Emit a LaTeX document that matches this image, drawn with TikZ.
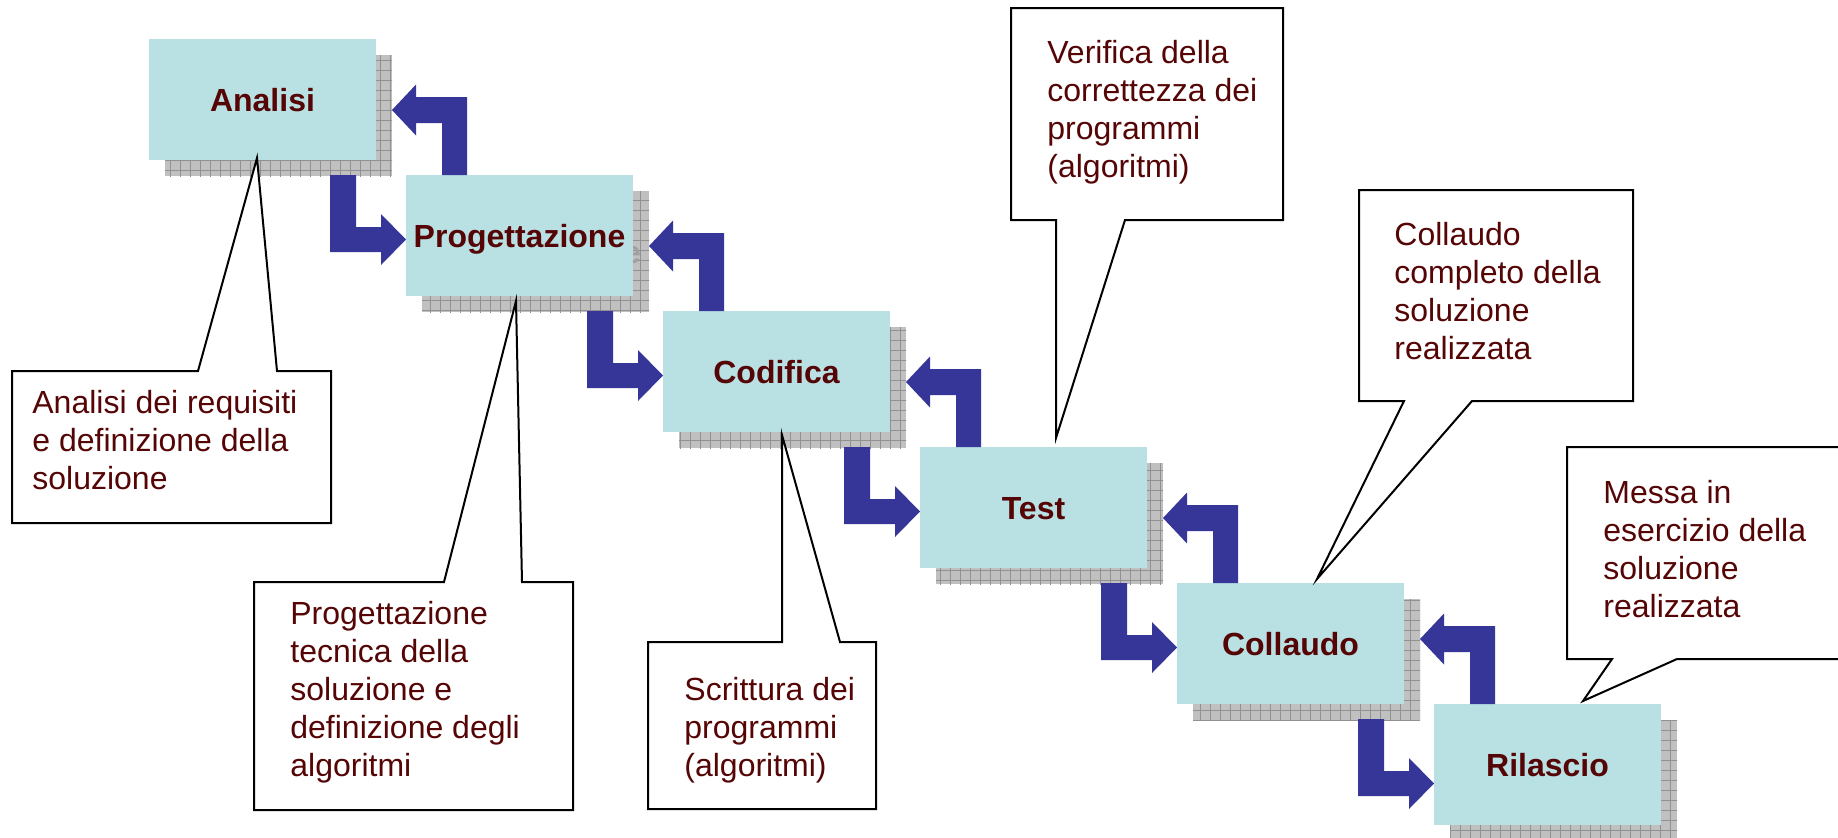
\documentclass[tikz,border=0pt]{standalone}
\usepackage{fontspec}
\setmainfont{Liberation Sans}
\usetikzlibrary{calc}

\definecolor{boxfill}{RGB}{185,224,227}
\definecolor{flowblue}{RGB}{54,54,153}
\definecolor{inkred}{RGB}{85,5,5}
\definecolor{shadowfill}{RGB}{192,192,192}
\definecolor{shadowgrid}{RGB}{145,145,145}
\definecolor{ghostgray}{RGB}{160,160,160}

\pgfdeclarelayer{back}
\pgfsetlayers{back,main}

\tikzset{
  phase/.style={fill=boxfill, inner sep=0pt, outer sep=0pt, anchor=north west,
    minimum width=113.5pt, minimum height=60.5pt,
    font=\fontsize{16}{19}\selectfont\bfseries, text=inkred,
    text height=11.5pt, text depth=0pt},
  ghostlabel/.style={inner sep=0pt, anchor=base east,
    font=\fontsize{16}{19}\selectfont\bfseries, text=ghostgray},
  flow/.style={fill=flowblue},
  callbox/.style={inner sep=0pt, outer sep=0pt, anchor=north west},
  callout/.style={draw=black, line width=1pt, fill=white, line join=miter},
  note/.style={anchor=base west, inner sep=0pt,
    font=\fontsize{16}{19}\selectfont, text=inkred},
}

% left-aligned lines whose baseline is the first line
\newcommand\notelines[1]{\begin{tabular}[t]{@{}l@{}}#1\end{tabular}}

% hatched drop shadow behind a phase box
\newcommand\phaseshadow[1]{%
  \fill[shadowfill] ($(#1.north west)+(16,16)$) rectangle ($(#1.south east)+(16,16)$);
  \begin{scope}
    \clip ($(#1.north west)+(16,16)$) rectangle ($(#1.south east)+(16,16)$);
    \draw[shadowgrid, line width=0.5pt, step=5pt]
      ($(#1.north west)+(10,10)$) grid ($(#1.south east)+(22,22)$);
  \end{scope}}

% forward block arrow: down from box #1, then right into box #2
\newcommand\fwdflow[2]{%
  \fill[flow] ($(#1.south west)+(181,15)$) -- ($(#1.south west)+(207,15)$)
    -- ($(#1.north west)+(207,188)$)
    -- ($(#2.north west |- #1.north west)+(-25,188)$)
    -- ($(#2.north west |- #1.north west)+(-25,175)$)
    -- ($(#2.north west |- #1.north west)+(0,200.5)$)
    -- ($(#2.north west |- #1.north west)+(-25,226)$)
    -- ($(#2.north west |- #1.north west)+(-25,213)$)
    -- ($(#1.north west)+(181,213)$) -- cycle;}

% return block arrow: up from box #1, then left back to box #2
\newcommand\backflow[2]{%
  \fill[flow] ($(#1.north west)+(36,0)$) -- ($(#1.north west)+(36,-52)$)
    -- ($(#2.north east |- #1.north west)+(40,-52)$)
    -- ($(#2.north east |- #1.north west)+(40,-39.5)$)
    -- ($(#2.north east |- #1.north west)+(16,-65)$)
    -- ($(#2.north east |- #1.north west)+(40,-90.5)$)
    -- ($(#2.north east |- #1.north west)+(40,-78)$)
    -- ($(#1.north west)+(61,-78)$) -- ($(#1.north west)+(61,0)$) -- cycle;}

\begin{document}
\begin{tikzpicture}[x=0.5pt, y=-0.5pt]
  \clip (0,0) rectangle (1838,837);

  % phases
  \node[phase] (analisi)       at (149,39)   {Analisi};
  \node[phase] (progettazione) at (406,175)  {Progettazione};
  \node[phase] (codifica)      at (663,311)  {Codifica};
  \node[phase] (test)          at (920,447)  {Test};
  \node[phase] (collaudo)      at (1177,583) {Collaudo};
  \node[phase] (rilascio)      at (1434,704) {Rilascio};

  \begin{pgfonlayer}{back}
    \foreach \b in {analisi,progettazione,codifica,test,collaudo,rilascio}
      {\phaseshadow{\b}}
    % the shadowed last letter of the long label peeks out beside its box
    \node[ghostlabel] (ghost) at ($(progettazione.center)+(121.8,27.5)$) {e};
  \end{pgfonlayer}

  % flow between phases
  \fwdflow{analisi}{progettazione}
  \fwdflow{progettazione}{codifica}
  \fwdflow{codifica}{test}
  \fwdflow{test}{collaudo}
  \fwdflow{collaudo}{rilascio}
  \backflow{progettazione}{analisi}
  \backflow{codifica}{progettazione}
  \backflow{test}{codifica}
  \backflow{collaudo}{test}
  \backflow{rilascio}{collaudo}

  % callouts below the phases
  \node[callbox, minimum width=159.5pt, minimum height=76pt] (c1) at (12,371) {};
  \coordinate (t1) at ($(analisi.south)+(-5.5,-2)$);
  \draw[callout] (c1.north west) -- ($(c1.north west)+(186,0)$) -- (t1)
    -- ($(c1.north west)+(265,0)$) -- (c1.north east) -- (c1.south east)
    -- (c1.south west) -- cycle;
  \node[note] (n1) at ($(c1.north west)+(20,42)$)
    {\notelines{Analisi dei requisiti\\e definizione della\\soluzione}};

  \node[callbox, minimum width=159.5pt, minimum height=114pt] (c2) at (254,582) {};
  \coordinate (t2) at ($(progettazione.south)+(-3.5,5)$);
  \draw[callout] (c2.north west) -- ($(c2.north west)+(190,0)$) -- (t2)
    -- ($(c2.north west)+(268,0)$) -- (c2.north east) -- (c2.south east)
    -- (c2.south west) -- cycle;
  \node[note] (n2) at ($(c2.north west)+(36,42)$)
    {\notelines{Progettazione\\tecnica della\\soluzione e\\definizione degli\\algoritmi}};

  \node[callbox, minimum width=114pt, minimum height=83.5pt] (c3) at (648,642) {};
  \coordinate (t3) at ($(codifica.south)+(5.5,3)$);
  \draw[callout] (c3.north west) -- ($(c3.north west)+(134,0)$) -- (t3)
    -- ($(c3.north west)+(192,0)$) -- (c3.north east) -- (c3.south east)
    -- (c3.south west) -- cycle;
  \node[note] (n3) at ($(c3.north west)+(36,58)$)
    {\notelines{Scrittura dei\\programmi\\(algoritmi)}};

  % callouts above the phases
  \node[callbox, minimum width=136pt, minimum height=106pt] (c4) at (1011,8) {};
  \coordinate (t4) at ($(test.north)+(22.5,-9)$);
  \draw[callout] (c4.north west) -- (c4.north east) -- (c4.south east)
    -- ($(c4.south west)+(114,0)$) -- (t4) -- ($(c4.south west)+(45,0)$)
    -- (c4.south west) -- cycle;
  \node[note] (n4) at ($(c4.north west)+(36,55)$)
    {\notelines{Verifica della\\correttezza dei\\programmi\\(algoritmi)}};

  \node[callbox, minimum width=137pt, minimum height=105.5pt] (c5) at (1359,190) {};
  \coordinate (t5) at ($(collaudo.north)+(26.5,-4)$);
  \draw[callout] (c5.north west) -- (c5.north east) -- (c5.south east)
    -- ($(c5.south west)+(113,0)$) -- (t5) -- ($(c5.south west)+(45,0)$)
    -- (c5.south west) -- cycle;
  \node[note] (n5) at ($(c5.north west)+(35,55)$)
    {\notelines{Collaudo\\completo della\\soluzione\\realizzata}};

  \node[callbox, minimum width=141.5pt, minimum height=106pt] (c6) at (1567,447) {};
  \coordinate (t6) at ($(rilascio.north)+(35.5,-3)$);
  \draw[callout] (c6.north west) -- (c6.north east) -- (c6.south east)
    -- ($(c6.south west)+(110,0)$) -- (t6) -- ($(c6.south west)+(45,0)$)
    -- (c6.south west) -- cycle;
  \node[note] (n6) at ($(c6.north west)+(36,56)$)
    {\notelines{Messa in\\esercizio della\\soluzione\\realizzata}};
\end{tikzpicture}
\end{document}
